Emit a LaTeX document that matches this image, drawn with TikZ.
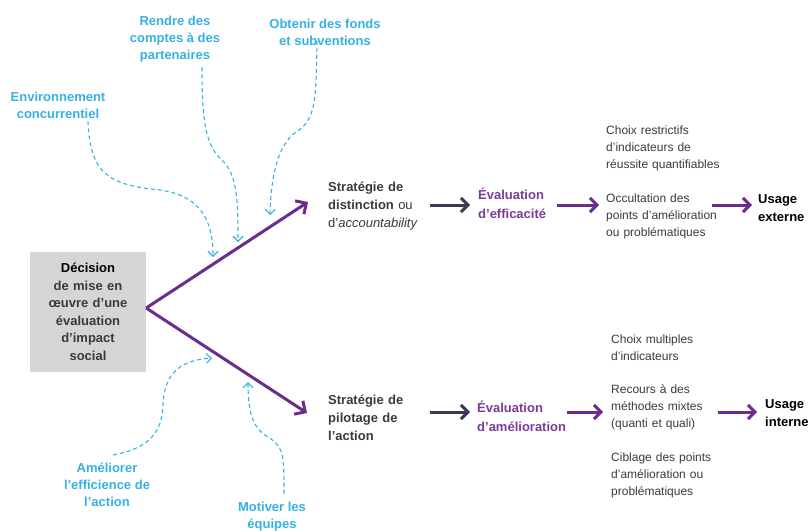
\documentclass[tikz,border=0pt]{standalone}
\usepackage{fontspec}
\setmainfont{Liberation Sans}
\usetikzlibrary{arrows.meta}

\definecolor{strokepurple}{HTML}{6A2C8E}
\definecolor{evalpurple}{HTML}{7D3A99}
\definecolor{navyarrow}{HTML}{3E3858}
\definecolor{skyblue}{HTML}{35B1E4}
\definecolor{bodygrey}{HTML}{3A3A3A}
\definecolor{panelgrey}{HTML}{D5D5D5}

\begin{document}
\begin{tikzpicture}[x=1pt,y=-1pt,
  driver/.style={font=\fontsize{13}{17}\selectfont\bfseries, text=skyblue,
    align=center, inner sep=0pt},
  bodytext/.style={font=\fontsize{12}{17}\selectfont, text=bodygrey,
    align=left, anchor=west, inner sep=0pt},
  boldtext/.style={font=\fontsize{13}{18}\selectfont\bfseries, text=bodygrey,
    align=left, anchor=west, inner sep=0pt},
  evaltext/.style={font=\fontsize{13}{19}\selectfont\bfseries, text=evalpurple,
    align=left, anchor=west, inner sep=0pt},
  branch/.style={draw=strokepurple, line width=3pt,
    -{Straight Barb[length=8pt,width=16pt,line width=3pt]}},
  stepdark/.style={draw=navyarrow, line width=3pt,
    -{Straight Barb[length=7pt,width=14pt,line width=3pt]}},
  steppurple/.style={draw=strokepurple, line width=3pt,
    -{Straight Barb[length=7pt,width=14pt,line width=3pt]}},
  influence/.style={draw=skyblue, line width=1.1pt, dash pattern=on 4pt off 3pt,
    -{Straight Barb[length=5pt,width=10pt,line width=1.1pt]}}
]
\useasboundingbox (0,0) rectangle (808,530);

% decision box
\node[fill=panelgrey, minimum width=116pt, minimum height=120pt, text width=110pt,
  align=center, inner sep=0pt, text=bodygrey,
  font=\fontsize{13}{17.5}\selectfont\bfseries] (dec) at (88,312)
  {{\color{black}Décision}\\de mise en\\œuvre d’une\\évaluation\\d’impact\\social};

% strategies
\node[boldtext, text width=95pt] (s1) at (328,206)
  {Stratégie de\\distinction \textmd{ou}\\\textmd{d’\textit{accountability}}};
\node[boldtext, text width=95pt] (s2) at (328,418)
  {Stratégie de\\pilotage de\\l’action};

% evaluations
\node[evaltext, text width=75pt] (e1) at (478,203.5) {Évaluation\\d’efficacité};
\node[evaltext, text width=90pt] (e2) at (477,416) {Évaluation\\d’amélioration};

% upper characteristics
\node[bodytext, text width=115pt] (cr) at (606,148)
  {Choix restrictifs\\d’indicateurs de\\réussite quantifiables};
\node[bodytext, text width=115pt] (occ) at (606,216)
  {Occultation des\\points d’amélioration\\ou problématiques};

% lower characteristics
\node[bodytext, text width=107pt] (cm) at (611,347.5)
  {Choix multiples\\d’indicateurs};
\node[bodytext, text width=107pt] (rec) at (611,407.5)
  {Recours à des\\méthodes mixtes\\(quanti et quali)};
\node[bodytext, text width=107pt] (cib) at (611,475)
  {Ciblage des points\\d’amélioration ou\\problématiques};

% usages
\node[boldtext, text=black, text width=60pt] (ux) at (758,208) {Usage\\externe};
\node[boldtext, text=black, text width=60pt] (ui) at (765,413) {Usage\\interne};

% driver labels
\node[driver] (env) at (58,105) {Environnement\\concurrentiel};
\node[driver] (ren) at (175,39) {Rendre des\\comptes à des\\partenaires};
\node[driver] (obt) at (325,32.5) {Obtenir des fonds\\et subventions};
\node[driver] (ame) at (107,485) {Améliorer\\l’efficience de\\l’action};
\node[driver] (mot) at (272,516.5) {Motiver les\\équipes};

% branch tips and row levels
\coordinate (tipA) at (308,202);
\coordinate (tipB) at (307,413);
\coordinate (rowA) at (0,205);
\coordinate (rowB) at (0,412);

% the two branches
\draw[branch, line join=miter] ([yshift=4pt]dec.east) -- (tipA);
\draw[branch, line join=miter] ([yshift=4pt]dec.east) -- (tipB);

% upper chain
\draw[stepdark, shorten <=7pt, shorten >=8pt] (s1.east |- rowA) -- (e1.west |- rowA);
\draw[steppurple, shorten <=4pt, shorten >=7pt] (e1.east |- rowA) -- (occ.west |- rowA);
\draw[steppurple, shorten <=-9pt, shorten >=6pt] (occ.east |- rowA) -- (ux.west |- rowA);

% lower chain
\draw[stepdark, shorten <=7pt, shorten >=7pt] (s2.east |- rowB) -- (e2.west |- rowB);
\draw[steppurple, shorten >=8pt] (e2.east |- rowB) -- (rec.west |- rowB);
\draw[steppurple, shorten >=8pt] (rec.east |- rowB) -- (ui.west |- rowB);

% influences
\coordinate (inEnv) at (213,257);
\coordinate (inRen) at (238,242);
\coordinate (inObt) at (270,215);
\coordinate (inAme) at (212,358);
\coordinate (inMot) at (248,382);

\draw[influence] ([xshift=30pt,yshift=-3pt]env.south)
  .. controls (90,175) and (110,185) .. (160,190)
  .. controls (202,196) and (213,222) .. (inEnv);
\draw[influence] ([xshift=27pt,yshift=-5pt]ren.south)
  .. controls (202,120) and (205,145) .. (222,160)
  .. controls (238,175) and (238,205) .. (inRen);
\draw[influence] ([xshift=-8pt,yshift=5pt]obt.south)
  .. controls (316,100) and (316,120) .. (296,132)
  .. controls (278,145) and (271,175) .. (inObt);
\draw[influence] ([xshift=6pt,yshift=8pt]ame.north)
  .. controls (150,448) and (162,432) .. (163,405)
  .. controls (164,372) and (182,360) .. (inAme);
\draw[influence] ([xshift=12pt,yshift=8pt]mot.north)
  .. controls (284,455) and (284,447) .. (268,437)
  .. controls (252,428) and (248,410) .. (inMot);
\end{tikzpicture}
\end{document}
